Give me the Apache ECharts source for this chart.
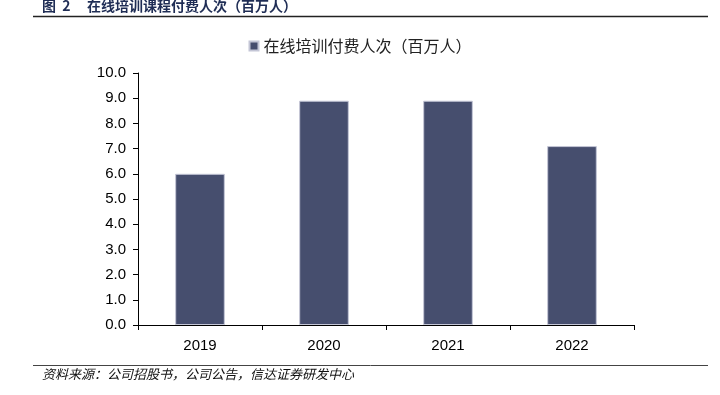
<!DOCTYPE html>
<html>
<head>
<meta charset="utf-8">
<script src="https://cdn.jsdelivr.net/npm/echarts@6/dist/echarts.min.js"></script>
<style>
html,body{margin:0;padding:0;background:#fff;}
#c{width:720px;height:395px;}
</style>
</head>
<body>
<div id="c"></div>
<script>
const categories = ['2019', '2020', '2021', '2022'];
const seriesName = '在线培训付费人次（百万人）';
const paidUsers = [6.0, 8.9, 8.9, 7.1];
const titleNumber = '图  2';
const titleText = '在线培训课程付费人次（百万人）';
const sourceText = '资料来源：公司招股书，公司公告，信达证券研发中心';

const chart = echarts.init(document.getElementById('c'), null, {renderer: 'canvas'});
const latin = 'Liberation Sans, Arial, Helvetica, sans-serif';
const cjk = '"Noto Sans CJK SC", sans-serif';
chart.setOption({
  animation: false,
  backgroundColor: '#fff',
  graphic: [
    {type: 'text', left: 42, top: -1, style: {text: titleNumber, font: 'bold 14px ' + cjk, fill: '#1f2d55'}},
    {type: 'text', left: 87, top: -1, style: {text: titleText, font: 'bold 14px ' + cjk, fill: '#1f2d55'}},
    {type: 'line', shape: {x1: 33, y1: 16.5, x2: 708, y2: 16.5}, style: {stroke: '#222', lineWidth: 1.5}},
    {type: 'line', shape: {x1: 33, y1: 365.5, x2: 708, y2: 365.5}, style: {stroke: '#444', lineWidth: 1}},
    {type: 'text', left: 42, top: 368, style: {text: sourceText, font: 'italic 13px ' + cjk, fill: '#111'}}
  ],
  legend: {
    top: 33, left: 'center',
    itemWidth: 9, itemHeight: 9, itemGap: 4,
    icon: 'rect',
    textStyle: {fontFamily: cjk, fontSize: 16, color: '#222'},
    data: [seriesName]
  },
  grid: {left: 138, right: 86, top: 73, bottom: 70, containLabel: false},
  xAxis: {
    type: 'category',
    data: categories,
    axisLine: {lineStyle: {color: '#000', width: 1}},
    axisTick: {show: true, length: 5, lineStyle: {color: '#000'}},
    axisLabel: {fontFamily: latin, fontSize: 15, color: '#000', margin: 13}
  },
  yAxis: {
    type: 'value',
    min: 0, max: 10, interval: 1,
    splitLine: {show: false},
    axisLine: {show: true, lineStyle: {color: '#000', width: 1}},
    axisTick: {show: true, length: 5, lineStyle: {color: '#000'}},
    axisLabel: {fontFamily: latin, fontSize: 15, color: '#000', margin: 12,
      formatter: v => v.toFixed(1)}
  },
  series: [{
    name: seriesName,
    type: 'bar',
    data: paidUsers,
    barWidth: '40%',
    itemStyle: {color: '#464e6e', borderColor: '#c4c6d6', borderWidth: 1}
  }]
});
</script>
</body>
</html>
